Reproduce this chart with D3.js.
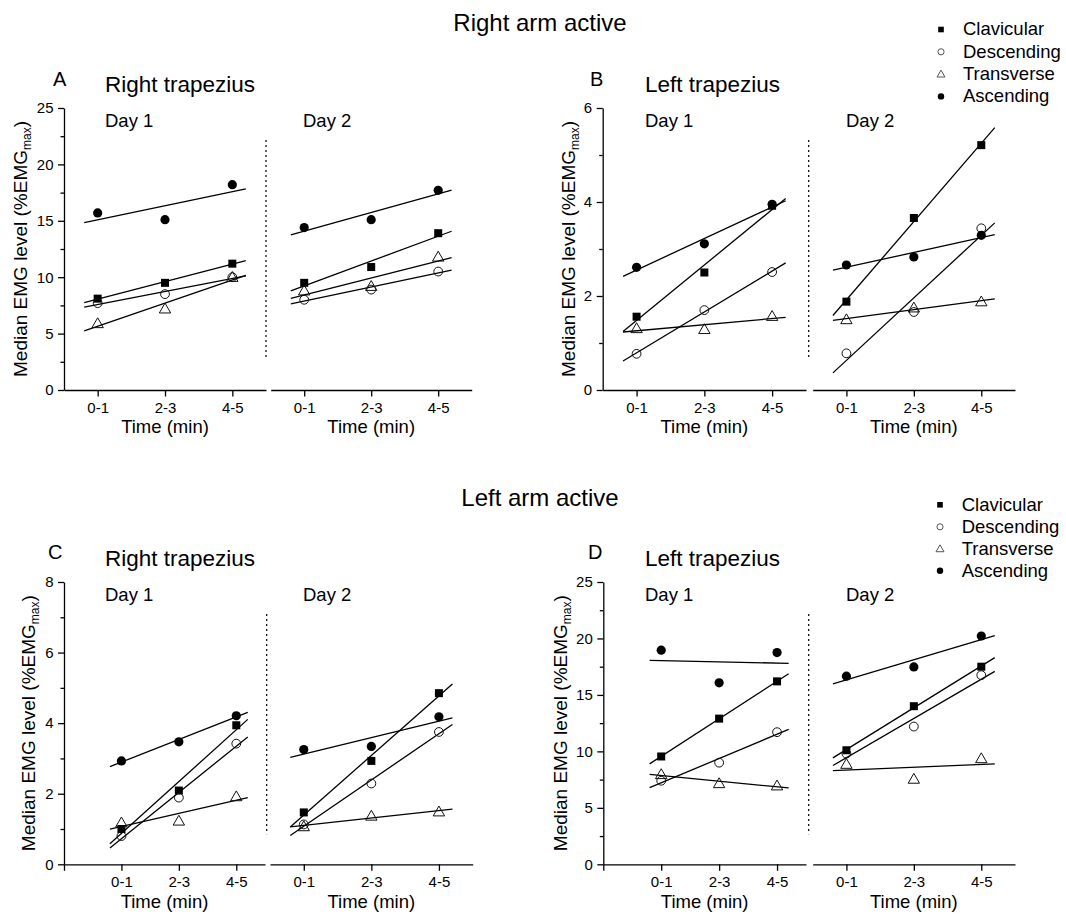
<!DOCTYPE html>
<html>
<head>
<meta charset="utf-8">
<script src="https://cdn.jsdelivr.net/npm/d3@7"></script>
<style>
  body { margin: 0; background: #fff; }
  text { font-family: "Liberation Sans", Arial, sans-serif; fill: #000; }
</style>
</head>
<body>
<svg id="fig"></svg>
<script>
// series order is the same in every row of the panel arrays below
const series = ["Clavicular", "Descending", "Transverse", "Ascending"];
const timeLabels = ["0-1", "2-3", "4-5"];
const dayLabels = ["Day 1", "Day 2"];

// right arm active, right trapezius
const aDay1 = [[8.1, 9.5, 11.2], [7.7, 8.5, 10.0], [5.9, 7.2, 10.0], [15.7, 15.1, 18.2]];
const aDay2 = [[9.5, 10.9, 13.9], [8.0, 8.9, 10.5], [8.8, 9.2, 11.8], [14.4, 15.1, 17.7]];
// right arm active, left trapezius
const bDay1 = [[1.56, 2.50, 3.92], [0.77, 1.70, 2.51], [1.31, 1.29, 1.57], [2.61, 3.11, 3.95]];
const bDay2 = [[1.88, 3.66, 5.21], [0.78, 1.66, 3.44], [1.50, 1.75, 1.88], [2.66, 2.83, 3.29]];
// left arm active, right trapezius
const cDay1 = [[1.00, 2.09, 3.94], [0.80, 1.89, 3.42], [1.18, 1.23, 1.92], [2.93, 3.47, 4.21]];
const cDay2 = [[1.47, 2.93, 4.85], [1.13, 2.29, 3.75], [1.07, 1.37, 1.49], [3.25, 3.34, 4.18]];
// left arm active, left trapezius
const dDay1 = [[9.55, 12.9, 16.2], [7.4, 9.0, 11.7], [7.96, 7.16, 6.96], [18.96, 16.07, 18.75]];
const dDay2 = [[10.1, 14.0, 17.5], [9.8, 12.2, 16.75], [8.87, 7.55, 9.37], [16.66, 17.48, 20.22]];

const width = 1066;
const height = 915;

const svg = d3.select("#fig").attr("width", width).attr("height", height);

const panels = [
  { letter: "A", title: "Right trapezius", days: [aDay1, aDay2], yMax: 25, major: 5, minor: 2.5,
    top: 108, bottom: 390, seg: [[64, 266], [270.7, 471.7]], day1Min: -0.5, dotX: 266,
    letterX: 53, titleX: 105, dayX: [105, 303], letterY: 85.7, titleY: 91.7, dayY: 126.7, ylabX: 27 },
  { letter: "B", title: "Left trapezius", days: [bDay1, bDay2], yMax: 6, major: 2, minor: 1,
    top: 108, bottom: 390, seg: [[602.7, 806], [812.7, 1015]], day1Min: -0.5, dotX: 808.7,
    letterX: 590, titleX: 645, dayX: [645, 846], letterY: 85.7, titleY: 91.7, dayY: 126.7, ylabX: 575 },
  { letter: "C", title: "Right trapezius", days: [cDay1, cDay2], yMax: 8, major: 2, minor: 1,
    top: 582, bottom: 864.3, seg: [[64, 265], [270, 472.7]], day1Min: -1, dotX: 266.7,
    letterX: 48, titleX: 105, dayX: [105, 303], letterY: 559.3, titleY: 565.7, dayY: 601, ylabX: 35 },
  { letter: "D", title: "Left trapezius", days: [dDay1, dDay2], yMax: 25, major: 5, minor: 2.5,
    top: 582, bottom: 864.3, seg: [[603.3, 806], [812.7, 1015]], day1Min: -1, dotX: 808.7,
    letterX: 588, titleX: 645, dayX: [645, 846], letterY: 559.3, titleY: 565.7, dayY: 601, ylabX: 567 }
];

// main headings
svg.append("text").attr("x", 540).attr("y", 30.7).attr("text-anchor", "middle")
  .attr("font-size", 24).text("Right arm active");
svg.append("text").attr("x", 540).attr("y", 505.7).attr("text-anchor", "middle")
  .attr("font-size", 24).text("Left arm active");

function marker(g, name, cx, cy, k, openStroke) {
  if (name === "Clavicular") {
    const s = 8 * k;
    g.append("rect").attr("x", cx - s / 2).attr("y", cy - s / 2)
      .attr("width", s).attr("height", s).attr("fill", "#000");
  } else if (name === "Ascending") {
    g.append("circle").attr("cx", cx).attr("cy", cy).attr("r", 4.6 * k).attr("fill", "#000");
  } else if (name === "Descending") {
    g.append("circle").attr("cx", cx).attr("cy", cy).attr("r", 4.4 * k)
      .attr("fill", "none").attr("stroke", openStroke).attr("stroke-width", 1);
  } else {
    g.append("path")
      .attr("d", d3.symbol(d3.symbolTriangle, 56 * k * k)())
      .attr("transform", `translate(${cx},${cy + 0.9 * k})`)
      .attr("fill", "none").attr("stroke", openStroke).attr("stroke-width", 1);
  }
}

// least squares fit over the three time bins
function fit(vals) {
  const xs = [0, 1, 2];
  const mx = d3.mean(xs), my = d3.mean(vals);
  const b = d3.sum(xs, (x, i) => (x - mx) * (vals[i] - my)) / d3.sum(xs, (x) => (x - mx) ** 2);
  return (x) => my + b * (x - mx);
}

function styleAxis(g) {
  g.attr("font-family", null).attr("font-size", 15);
  g.selectAll("path.domain").attr("stroke", "#000").attr("stroke-width", 1.3);
  g.selectAll(".tick line").attr("stroke", "#000").attr("stroke-width", 1.3);
  g.selectAll(".tick text").attr("fill", "#000");
}

panels.forEach((p) => {
  const g = svg.append("g");
  const y = d3.scaleLinear().domain([0, p.yMax]).range([p.bottom, p.top]);
  const left = p.seg[0][0];

  const majors = d3.range(0, p.yMax + 1e-6, p.major);
  const minors = d3.range(0, p.yMax + 1e-6, p.minor).filter((v) => majors.indexOf(v) < 0);

  g.append("g").attr("transform", `translate(${left},0)`)
    .call(d3.axisLeft(y).tickValues(majors).tickFormat(d3.format("d"))
      .tickSize(6).tickPadding(4.5).tickSizeOuter(0))
    .call(styleAxis);
  g.append("g").attr("transform", `translate(${left},0)`)
    .call(d3.axisLeft(y).tickValues(minors).tickSize(3.5).tickFormat(""))
    .call(styleAxis)
    .call((a) => a.select("path.domain").remove());

  // y label with subscript
  const yl = g.append("text")
    .attr("transform", `translate(${p.ylabX},${(p.top + p.bottom) / 2}) rotate(-90)`)
    .attr("text-anchor", "middle").attr("font-size", 19);
  yl.append("tspan").text("Median EMG level (%EMG");
  yl.append("tspan").attr("font-size", 12).attr("dy", 4).text("max");
  yl.append("tspan").attr("dy", -4).text(")");

  g.append("text").attr("x", p.letterX).attr("y", p.letterY).attr("font-size", 20).text(p.letter);
  g.append("text").attr("x", p.titleX).attr("y", p.titleY).attr("font-size", 22.5).text(p.title);

  p.days.forEach((rows, di) => {
    const dmin = di === 0 ? p.day1Min : -0.5;
    const x = d3.scaleLinear().domain([dmin, 2.5]).range(p.seg[di]);
    const ticks = dmin <= -1 ? [-1, 0, 1, 2] : [0, 1, 2];

    g.append("g").attr("transform", `translate(0,${p.bottom})`)
      .call(d3.axisBottom(x).tickValues(ticks).tickSize(6.5).tickPadding(6).tickSizeOuter(0)
        .tickFormat((d) => (d < 0 ? "" : timeLabels[d])))
      .call(styleAxis);

    g.append("text").attr("x", (p.seg[di][0] + p.seg[di][1]) / 2).attr("y", p.bottom + 43.3)
      .attr("text-anchor", "middle").attr("font-size", 18.5).text("Time (min)");
    g.append("text").attr("x", p.dayX[di]).attr("y", p.dayY).attr("font-size", 18.5).text(dayLabels[di]);

    const line = d3.line().x((d) => x(d[0])).y((d) => y(d[1]));
    rows.forEach((vals) => {
      const f = fit(vals);
      g.append("path")
        .attr("d", line([[-0.2, f(-0.2)], [2.2, f(2.2)]]))
        .attr("fill", "none").attr("stroke", "#000").attr("stroke-width", 1.3);
    });
    rows.forEach((vals, si) => {
      vals.forEach((v, i) => marker(g, series[si], x(i), y(v), 1, "#111"));
    });
  });

  // dotted separator between days
  g.append("line").attr("x1", p.dotX).attr("x2", p.dotX)
    .attr("y1", p.top + 32).attr("y2", p.bottom - 30)
    .attr("stroke", "#000").attr("stroke-width", 1.2).attr("stroke-dasharray", "2,3");
});

// legends
const legends = [
  { mx: 941, tx: 963, y0: 29.5, step: 22.3 },
  { mx: 940, tx: 961.7, y0: 504.8, step: 22 }
];
legends.forEach((L) => {
  const g = svg.append("g");
  series.forEach((s, i) => {
    const cy = L.y0 + i * L.step;
    marker(g, s, L.mx, cy, 0.7, "#555");
    g.append("text").attr("x", L.tx).attr("y", cy + 5.7).attr("font-size", 18.5).text(s);
  });
});
</script>
</body>
</html>
